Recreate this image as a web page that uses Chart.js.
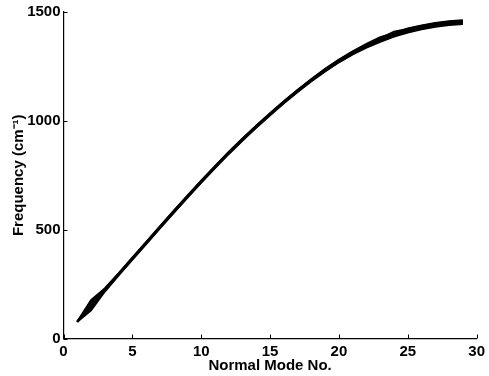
<!DOCTYPE html>
<html>
<head>
<meta charset="utf-8">
<script src="https://cdn.jsdelivr.net/npm/chart.js@4/dist/chart.umd.min.js"></script>
<style>
  html, body { margin: 0; padding: 0; background: #fff; }
</style>
</head>
<body>
<canvas id="chart" width="489" height="376"></canvas>
<script>
// normal mode numbers
var modes = [1, 2, 3, 4, 5, 6, 7, 8, 9, 10, 11, 12, 13, 14, 15, 16, 17, 18, 19, 20, 21, 22, 23, 24, 25, 26, 27, 28, 29];

// frequencies (cm^-1), several overlapping runs
var freqA = [77, 170, 228, 298, 370, 442, 514, 585, 655, 724, 791, 856, 918, 977, 1034, 1089, 1141, 1190, 1237, 1279, 1317, 1350, 1379, 1410, 1422, 1436, 1447, 1455, 1460];
var freqB = [77, 130, 216, 290, 362, 434, 506, 577, 647, 716, 783, 848, 910, 969, 1026, 1081, 1133, 1182, 1227, 1269, 1305, 1336, 1363, 1387, 1406, 1421, 1432, 1440, 1445];
var freqC = [77, 150, 222, 294, 366, 438, 510, 581, 651, 720, 787, 852, 914, 973, 1030, 1085, 1137, 1186, 1232, 1274, 1311, 1343, 1371, 1394, 1413, 1428, 1439, 1447, 1452];
var freqD = [77, 160, 224, 296, 368, 440, 512, 583, 653, 722, 789, 854, 916, 975, 1032, 1087, 1139, 1188, 1235, 1277, 1314, 1347, 1375, 1398, 1418, 1433, 1444, 1451, 1456];
var freqE = [77, 140, 219, 292, 364, 436, 508, 579, 649, 718, 785, 850, 912, 971, 1028, 1083, 1135, 1184, 1230, 1271, 1308, 1340, 1367, 1390, 1410, 1425, 1436, 1444, 1449];
var freqF = [77, 176, 230, 299, 371, 443, 515, 586, 656, 725, 792, 857, 919, 978, 1035, 1090, 1142, 1192, 1239, 1281, 1319, 1353, 1384, 1402, 1424, 1438, 1449, 1457, 1462];

var xTicks = [0, 5, 10, 15, 20, 25, 30];
var yTicks = [0, 500, 1000, 1500];

var runs = [freqA, freqB, freqC, freqD, freqE, freqF];

var fontFam = '"Liberation Sans", Arial, Helvetica, sans-serif';

function toPoints(ys) {
    var pts = [];
    for (var i = 0; i < modes.length; i++) {
        pts.push({x: modes[i], y: ys[i]});
    }
    return pts;
}

var datasets = runs.map(function(r) {
    return {
        data: toPoints(r),
        borderColor: '#000',
        borderWidth: 2,
        pointRadius: 0,
        tension: 0,
        fill: false
    };
});

// small ticks pointing into the plot, like matlab
var innerTicks = {
    id: 'innerTicks',
    afterDraw: function(chart) {
        var ctx = chart.ctx;
        var xs = chart.scales.x, ys = chart.scales.y;
        ctx.save();
        ctx.strokeStyle = '#000';
        ctx.lineWidth = 1;
        xTicks.forEach(function(v) {
            var px = Math.round(xs.getPixelForValue(v)) + 0.5;
            ctx.beginPath();
            ctx.moveTo(px, ys.bottom);
            ctx.lineTo(px, ys.bottom - 4);
            ctx.stroke();
        });
        yTicks.forEach(function(v) {
            var py = Math.round(ys.getPixelForValue(v)) + 0.5;
            ctx.beginPath();
            ctx.moveTo(xs.left, py);
            ctx.lineTo(xs.left + 4, py);
            ctx.stroke();
        });
        ctx.restore();
    }
};

var ctx = document.getElementById('chart').getContext('2d');
var myChart = new Chart(ctx, {
    type: 'line',
    data: { datasets: datasets },
    plugins: [innerTicks],
    options: {
        responsive: false,
        animation: false,
        layout: { padding: { left: 0, right: 8, top: 10, bottom: 0 } },
        plugins: {
            legend: { display: false },
            tooltip: { enabled: false }
        },
        scales: {
            x: {
                type: 'linear',
                min: 0,
                max: 30,
                afterFit: function(scale) { scale.height = 37.5; },
                afterBuildTicks: function(scale) {
                    scale.ticks = xTicks.map(function(v) { return {value: v}; });
                },
                grid: { display: true, drawOnChartArea: false, drawTicks: false },
                border: { display: true, color: '#000', width: 1.2 },
                ticks: {
                    color: '#000',
                    padding: 4,
                    maxRotation: 0,
                    callback: function(v) { return String(v); },
                    font: { family: fontFam, size: 15, weight: 'bold' }
                },
                title: {
                    display: true,
                    text: 'Normal Mode No.',
                    color: '#000',
                    padding: { top: 0, bottom: 1 },
                    font: { family: fontFam, size: 15, weight: 'bold' }
                }
            },
            y: {
                type: 'linear',
                min: 0,
                max: 1500,
                afterFit: function(scale) { scale.width = 63.5; },
                afterBuildTicks: function(scale) {
                    scale.ticks = yTicks.map(function(v) { return {value: v}; });
                },
                grid: { display: true, drawOnChartArea: false, drawTicks: false },
                border: { display: true, color: '#000', width: 1.2 },
                ticks: {
                    color: '#000',
                    padding: 3,
                    callback: function(v) { return String(v); },
                    font: { family: fontFam, size: 15, weight: 'bold' }
                },
                title: {
                    display: true,
                    text: 'Frequency (cm\u207B\u00B9)',
                    color: '#000',
                    padding: { top: 10, bottom: 0 },
                    font: { family: fontFam, size: 15, weight: 'bold' }
                }
            }
        }
    }
});
</script>
</body>
</html>
